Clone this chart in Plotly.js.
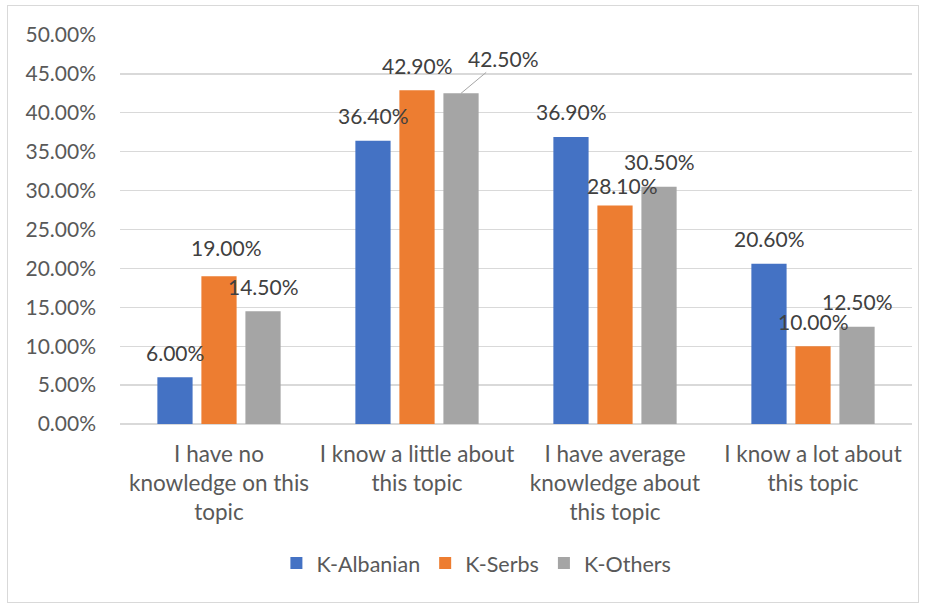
<!DOCTYPE html>
<html>
<head>
<meta charset="utf-8">
<script src="https://cdn.plot.ly/plotly-3.0.1.min.js"></script>
<style>
html,body{margin:0;padding:0;background:#fff;}
#frame{position:absolute;left:7px;top:5px;width:910px;height:596px;border:1px solid #d9d9d9;}
#chart{width:910px;height:596px;}
</style>
</head>
<body>
<div id="frame"><div id="chart"></div></div>
<script>
// ---- data ----
const categories = [
  "I have no<br>knowledge on this<br>topic",
  "I know a little about<br>this topic",
  "I have average<br>knowledge about<br>this topic",
  "I know a lot about<br>this topic"
];
const seriesNames = ["K-Albanian", "K-Serbs", "K-Others"];
const kAlbanian = [6.0, 36.4, 36.9, 20.6];
const kSerbs    = [19.0, 42.9, 28.1, 10.0];
const kOthers   = [14.5, 42.5, 30.5, 12.5];
const yTicks = [0, 5, 10, 15, 20, 25, 30, 35, 40, 45, 50];

// ---- styles ----
const colors = ["#4472C4", "#ED7D31", "#A5A5A5"];
const FONT = "Lato, 'Open Sans', sans-serif";
const TXT = "#595959";
const allSeries = [kAlbanian, kSerbs, kOthers];
const slotPx = 44; // horizontal spacing between bars in a group (px)
// label placement tweaks [series][category]
const nudges = {
  "1-0": {dx: 7, dy: 4},
  "1-2": {dx: 7, dy: -5},
  "2-1": {arrow: true, ax: 42, ay: -35}
};

const traces = allSeries.map((vals, i) => ({
  type: "bar",
  name: seriesNames[i],
  x: categories,
  y: vals,
  marker: {color: colors[i]},
  hoverinfo: "skip"
}));

const annotations = [];
allSeries.forEach((vals, i) => {
  vals.forEach((v, j) => {
    const n = nudges[i + "-" + j] || {};
    const base = (i - 1) * slotPx;
    const common = {
      x: categories[j], y: v, xref: "x", yref: "y",
      text: v.toFixed(2) + "%",
      font: {family: FONT, size: 21, color: "#404040"}
    };
    if (n.arrow) {
      annotations.push(Object.assign(common, {
        xshift: base,
        showarrow: true, arrowhead: 0, arrowwidth: 1, arrowcolor: "#A5A5A5",
        ax: n.ax, ay: n.ay, standoff: 0
      }));
    } else {
      annotations.push(Object.assign(common, {
        xshift: base + (n.dx || 0), yshift: 25 + (n.dy || 0),
        yanchor: "middle", xanchor: "center",
        showarrow: false
      }));
    }
  });
});

const layout = {
  width: 910, height: 596,
  margin: {l: 112, r: 6, t: 29, b: 178},
  paper_bgcolor: "#fff", plot_bgcolor: "#fff",
  font: {family: FONT, size: 21, color: TXT},
  barmode: "group",
  bargap: 0.333,
  bargroupgap: 0.2,
  showlegend: true,
  legend: {
    orientation: "h", x: 0.45, xanchor: "center", y: -0.305, yanchor: "top",
    font: {family: FONT, size: 21.5, color: TXT},
    itemwidth: 30, traceorder: "normal"
  },
  xaxis: {
    type: "category",
    tickfont: {family: FONT, size: 22.5, color: TXT},
    showline: false, ticks: "", showgrid: false,
    ticklabelstandoff: 14
  },
  yaxis: {
    range: [0, 50],
    tickvals: yTicks,
    ticktext: yTicks.map(t => t.toFixed(2) + "%"),
    showgrid: true, gridcolor: "#D9D9D9", gridwidth: 1.3,
    zeroline: true, zerolinecolor: "#D9D9D9", zerolinewidth: 1.3,
    showline: false, ticks: "", ticklabelstandoff: 23,
    tickfont: {family: FONT, size: 21, color: TXT}
  },
  annotations: annotations
};

Plotly.newPlot("chart", traces, layout, {displayModeBar: false, staticPlot: true});
</script>
</body>
</html>
